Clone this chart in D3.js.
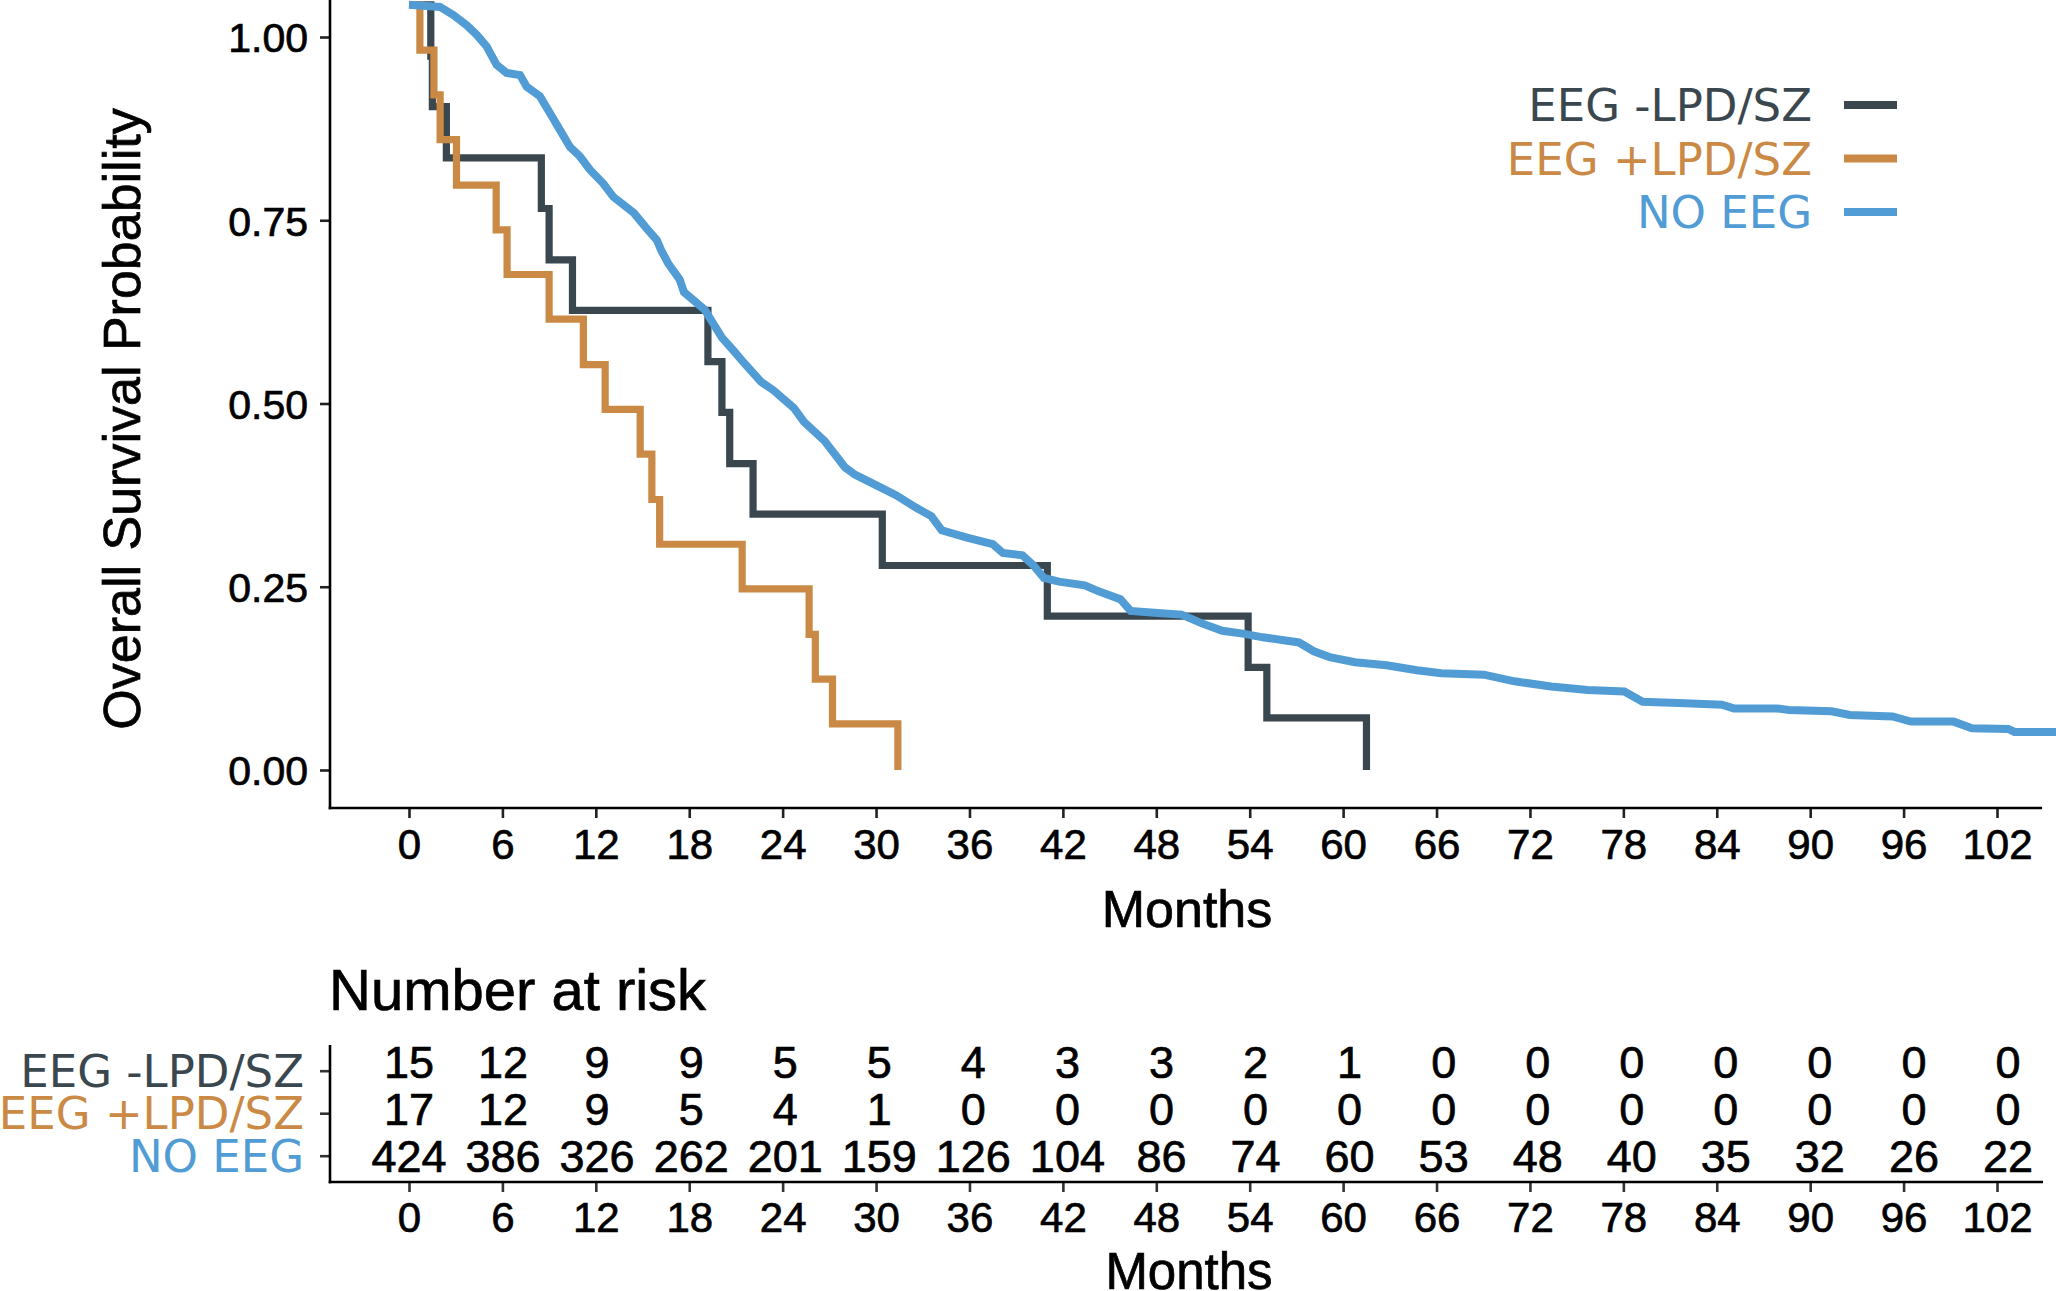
<!DOCTYPE html>
<html><head><meta charset="utf-8">
<script src="https://cdn.jsdelivr.net/npm/d3@7"></script>
<style>
html,body{margin:0;padding:0;background:#fff;}
svg{display:block;}
.heavy{stroke:#000;stroke-width:0.7px;}
</style></head><body>
<svg id="chart" width="2056" height="1291"></svg>
<script>
// ---------------- data ----------------
const groups = ["EEG -LPD/SZ", "EEG +LPD/SZ", "NO EEG"];
const groupColors = ["#3A474F", "#CA8A45", "#519CD4"];
const monthTicks = [0, 6, 12, 18, 24, 30, 36, 42, 48, 54, 60, 66, 72, 78, 84, 90, 96, 102];
const survTicks = [0, 0.25, 0.5, 0.75, 1];

// EEG -LPD/SZ (values read against the printed y axis)
const eegNegTime = [0, 1.4, 1.5, 2.4, 8.5, 9.0, 10.5, 19.2, 20.1, 20.6, 22.1, 30.4, 41.0, 53.9, 55.1, 61.5];
const eegNegSurv = [1.044, 0.974, 0.905, 0.835, 0.766, 0.696, 0.627, 0.557, 0.488, 0.418, 0.349, 0.279, 0.210, 0.140, 0.071, 0.0];

// EEG +LPD/SZ
const eegPosTime = [0, 0.7, 1.6, 2.0, 3.05, 5.6, 6.3, 9.0, 11.2, 12.6, 14.85, 15.6, 16.1, 21.4, 25.7, 26.1, 27.2, 31.4];
const eegPosSurv = [1.044, 0.982, 0.921, 0.860, 0.798, 0.737, 0.676, 0.615, 0.553, 0.492, 0.431, 0.369, 0.308, 0.247, 0.185, 0.124, 0.063, 0.0];

// NO EEG
const noEegTime = [0, 1.99, 2.85, 3.71, 4.35, 4.99, 5.63, 6.27, 7.13, 7.56, 8.41, 9.06, 9.70, 10.34, 10.98, 11.62, 12.48, 13.12, 14.44, 15.18, 15.92, 16.20, 16.65, 17.39, 17.66, 18.99, 20.10, 20.81, 21.45, 22.59, 23.41, 24.72, 25.37, 26.69, 28.00, 28.64, 29.96, 31.28, 32.56, 33.56, 34.22, 35.84, 37.50, 38.15, 39.40, 40.12, 40.78, 41.75, 43.40, 44.38, 45.69, 46.35, 48.30, 49.62, 50.93, 52.24, 53.56, 54.85, 57.16, 58.12, 59.13, 60.76, 62.79, 64.74, 66.31, 69.04, 71.01, 73.36, 75.71, 78.06, 79.24, 81.98, 84.33, 85.10, 87.85, 88.63, 91.37, 92.55, 95.29, 96.47, 99.21, 100.39, 102.73, 103.12, 105.8];
const noEegSurv = [1.044, 1.041, 1.030, 1.016, 1.003, 0.987, 0.962, 0.951, 0.948, 0.932, 0.919, 0.896, 0.873, 0.850, 0.837, 0.819, 0.800, 0.782, 0.760, 0.741, 0.723, 0.709, 0.691, 0.669, 0.652, 0.628, 0.590, 0.573, 0.557, 0.530, 0.518, 0.494, 0.475, 0.449, 0.413, 0.403, 0.389, 0.375, 0.358, 0.346, 0.327, 0.317, 0.308, 0.296, 0.293, 0.279, 0.262, 0.257, 0.252, 0.243, 0.233, 0.217, 0.214, 0.212, 0.200, 0.190, 0.186, 0.181, 0.174, 0.162, 0.154, 0.147, 0.143, 0.136, 0.132, 0.130, 0.121, 0.114, 0.109, 0.107, 0.093, 0.091, 0.089, 0.084, 0.084, 0.082, 0.080, 0.075, 0.073, 0.066, 0.066, 0.057, 0.056, 0.052, 0.052];

// Number at risk
const riskEegNeg = [15, 12, 9, 9, 5, 5, 4, 3, 3, 2, 1, 0, 0, 0, 0, 0, 0, 0];
const riskEegPos = [17, 12, 9, 5, 4, 1, 0, 0, 0, 0, 0, 0, 0, 0, 0, 0, 0, 0];
const riskNoEeg = [424, 386, 326, 262, 201, 159, 126, 104, 86, 74, 60, 53, 48, 40, 35, 32, 26, 22];

// ---------------- drawing ----------------
const svg = d3.select("#chart");
const sans = '"Liberation Sans", Arial, Helvetica, sans-serif';
const dejavu = '"DejaVu Sans", Verdana, sans-serif';
const tickCol = "#222";

svg.append("rect").attr("width", 2056).attr("height", 1291).attr("fill", "#fff");

const x = d3.scaleLinear().domain([0, 102]).range([409, 1997]);
const y = d3.scaleLinear().domain([0, 1]).range([770, 37]);

// main x axis
const gx = svg.append("g").attr("transform", "translate(0,808)")
  .call(d3.axisBottom(x).tickValues(monthTicks).tickSize(10).tickPadding(11).tickFormat(d3.format("d")));
gx.select(".domain").remove();
gx.selectAll(".tick line").attr("stroke", tickCol).attr("stroke-width", 2.6);
gx.selectAll(".tick text").attr("class", "heavy").attr("font-family", sans).attr("font-size", 42).attr("fill", "#000");

// main y axis
const gy = svg.append("g").attr("transform", "translate(330,0)")
  .call(d3.axisLeft(y).tickValues(survTicks).tickSize(10).tickPadding(12).tickFormat(d3.format(".2f")));
gy.select(".domain").remove();
gy.selectAll(".tick line").attr("stroke", tickCol).attr("stroke-width", 2.6);
gy.selectAll(".tick text").attr("class", "heavy").attr("font-family", sans).attr("font-size", 41).attr("fill", "#000").attr("dy", "0.36em");

// axis lines
svg.append("line").attr("x1", 330).attr("x2", 330).attr("y1", 0).attr("y2", 809.3)
  .attr("stroke", "#000").attr("stroke-width", 2.6);
svg.append("line").attr("x1", 328.7).attr("x2", 2042).attr("y1", 808).attr("y2", 808)
  .attr("stroke", "#000").attr("stroke-width", 2.6);

// axis titles
svg.append("text").attr("class", "heavy").attr("transform", "translate(140,419) rotate(-90)")
  .attr("text-anchor", "middle").attr("font-family", sans).attr("font-size", 52).attr("fill", "#000")
  .text("Overall Survival Probability");
svg.append("text").attr("class", "heavy").attr("x", 1187).attr("y", 927).attr("text-anchor", "middle")
  .attr("font-family", sans).attr("font-size", 52).attr("fill", "#000").text("Months");

// curves
const series = [
  { t: eegNegTime, s: eegNegSurv, curve: d3.curveStepAfter },
  { t: eegPosTime, s: eegPosSurv, curve: d3.curveStepAfter },
  { t: noEegTime, s: noEegSurv, curve: d3.curveLinear }
];
series.forEach((ser, i) => {
  const pts = ser.t.map((t, k) => [t, ser.s[k]]);
  const line = d3.line().x(d => x(d[0])).y(d => y(d[1])).curve(ser.curve);
  svg.append("path").attr("d", line(pts)).attr("fill", "none")
    .attr("stroke", groupColors[i]).attr("stroke-width", i === 2 ? 8 : 7.2)
    .attr("stroke-linejoin", "miter").attr("stroke-linecap", "butt");
});

// legend
const legY = d3.scalePoint().domain(groups).range([105, 212]);
const leg = svg.append("g");
groups.forEach((g, i) => {
  leg.append("line").attr("x1", 1844).attr("x2", 1897).attr("y1", legY(g)).attr("y2", legY(g))
    .attr("stroke", groupColors[i]).attr("stroke-width", 8);
  leg.append("text").attr("x", 1812).attr("y", legY(g)).attr("dy", "0.36em")
    .attr("text-anchor", "end").attr("font-family", dejavu).attr("font-size", 45)
    .attr("fill", groupColors[i]).text(g);
});

// ---------------- risk table ----------------
svg.append("text").attr("class", "heavy").attr("x", 329).attr("y", 1010).attr("font-family", sans)
  .attr("font-size", 58).attr("fill", "#000").text("Number at risk");

const xRisk = d3.scaleLinear().domain([0, 102]).range([409, 2008]);
const rowTick = d3.scalePoint().domain(groups).range([1070.7, 1155.7]);
const rowNum = d3.scalePoint().domain(groups).range([1062, 1155.7]);

const gry = svg.append("g").attr("transform", "translate(330,0)")
  .call(d3.axisLeft(rowTick).tickSize(10).tickPadding(16));
gry.select(".domain").remove();
gry.selectAll(".tick line").attr("stroke", "#333").attr("stroke-width", 2.6);
gry.selectAll(".tick text").attr("font-family", dejavu).attr("font-size", 45).attr("dy", "0.34em")
  .attr("fill", (d, i) => groupColors[groups.indexOf(d)]);

const grx = svg.append("g").attr("transform", "translate(0,1182)")
  .call(d3.axisBottom(x).tickValues(monthTicks).tickSize(10).tickPadding(10).tickFormat(d3.format("d")));
grx.select(".domain").remove();
grx.selectAll(".tick line").attr("stroke", "#333").attr("stroke-width", 2.6);
grx.selectAll(".tick text").attr("class", "heavy").attr("font-family", sans).attr("font-size", 42).attr("fill", "#000");

svg.append("line").attr("x1", 330).attr("x2", 330).attr("y1", 1045).attr("y2", 1183.3)
  .attr("stroke", "#000").attr("stroke-width", 2.6);
svg.append("line").attr("x1", 328.7).attr("x2", 2043).attr("y1", 1182).attr("y2", 1182)
  .attr("stroke", "#000").attr("stroke-width", 2.6);

const riskRows = [riskEegNeg, riskEegPos, riskNoEeg];
riskRows.forEach((row, i) => {
  svg.append("g").selectAll("text").data(row).join("text")
    .attr("class", "heavy")
    .attr("x", (d, k) => xRisk(monthTicks[k]))
    .attr("y", rowNum(groups[i])).attr("dy", "0.36em")
    .attr("text-anchor", "middle").attr("font-family", sans).attr("font-size", 45)
    .attr("fill", "#000").text(d => d);
});

svg.append("text").attr("class", "heavy").attr("x", 1189).attr("y", 1289).attr("text-anchor", "middle")
  .attr("font-family", sans).attr("font-size", 51).attr("fill", "#000").text("Months");
</script>
</body></html>
